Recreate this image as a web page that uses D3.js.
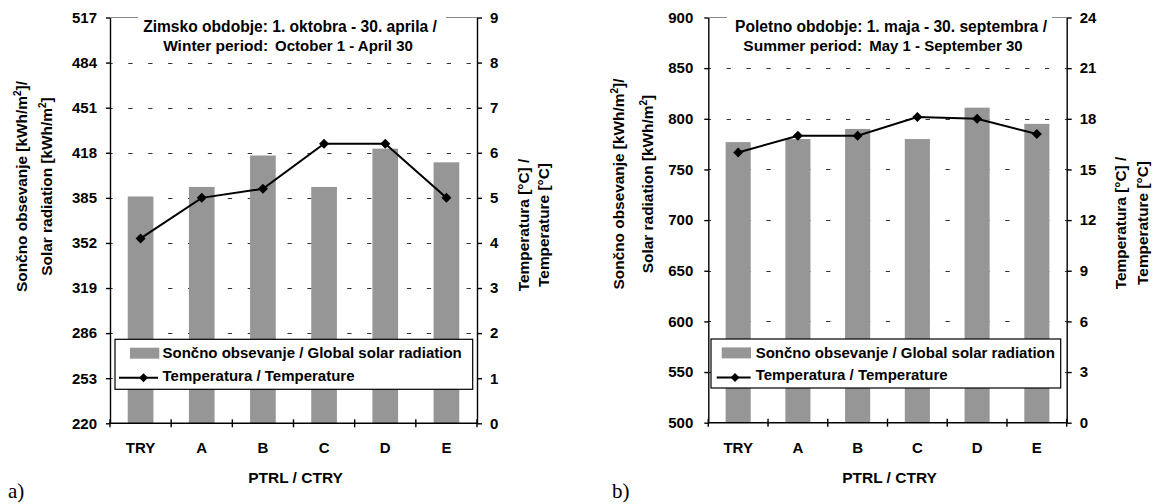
<!DOCTYPE html>
<html><head><meta charset="utf-8">
<script src="https://cdn.jsdelivr.net/npm/d3@7"></script>
<style>
body{margin:0;background:#fff}
svg{display:block}
text{font-family:"Liberation Sans",Arial,sans-serif;font-weight:bold;fill:#000}
</style>
</head><body><svg width="1159" height="504"></svg>
<script>
const categories = ["TRY","A","B","C","D","E"];
const winterRadiation = [386, 393, 416, 393, 421, 411];
const winterTemperature = [4.1, 5.0, 5.2, 6.2, 6.2, 5.0];
const summerRadiation = [777, 780, 790, 780, 811, 795];
const summerTemperature = [16.0, 17.0, 17.0, 18.1, 18.0, 17.1];
const winterRadiationTicks = [220, 253, 286, 319, 352, 385, 418, 451, 484, 517];
const winterTemperatureTicks = [0, 1, 2, 3, 4, 5, 6, 7, 8, 9];
const summerRadiationTicks = [500, 550, 600, 650, 700, 750, 800, 850, 900];
const summerTemperatureTicks = [0, 3, 6, 9, 12, 15, 18, 21, 24];
const legendLabels = ["Sončno obsevanje / Global solar radiation", "Temperatura / Temperature"];
const xAxisTitle = "PTRL / CTRY";
const radiationTitleLines = ["Sončno obsevanje [kWh/m²]/", "Solar radiation [kWh/m²]"];
const temperatureTitleLines = ["Temperatura [°C] /", "Temperature [°C]"];
const winterTitle = ["Zimsko obdobje: 1. oktobra - 30. aprila /", "Winter period:", "October 1 - April 30"];
const summerTitle = ["Poletno obdobje: 1. maja - 30. septembra /", "Summer period:", "May 1 - September 30"];

const svg = d3.select("svg");
const BAR = "#969696";

function addSupText(sel, str){
  const parts = str.split("²");
  parts.forEach((p, i) => {
    if (i > 0) {
      sel.append("tspan").attr("dy", -6).attr("font-size", 10).text("2");
      sel.append("tspan").attr("dy", 6).text(p);
    } else sel.append("tspan").text(p);
  });
}

function diamond(r){ return `M0,${-r}L${r},0L0,${r}L${-r},0Z`; }

function drawChart(c){
  const g = svg.append("g");
  const x = d3.scaleBand().domain(categories).range([c.x0, c.x1]).paddingInner(0.58).paddingOuter(0.29);
  const yR = d3.scaleLinear().domain([c.radTicks[0], c.radTicks[c.radTicks.length-1]]).range([c.yBot, c.yTop]);
  const yT = d3.scaleLinear().domain([c.tempTicks[0], c.tempTicks[c.tempTicks.length-1]]).range([c.yBot, c.yTop]);
  const top = yR(c.radTicks[c.radTicks.length-1]);

  g.append("line").attr("x1", c.x0).attr("x2", c.x1).attr("y1", top).attr("y2", top)
    .attr("stroke", "#8a8a8a").attr("stroke-width", 1);

  g.selectAll(".grid").data(c.radTicks.slice(1, -1)).join("line")
    .attr("x1", c.x0).attr("x2", c.x1)
    .attr("y1", d => Math.round(yR(d)) + 0.5).attr("y2", d => Math.round(yR(d)) + 0.5)
    .attr("stroke", "#333").attr("stroke-width", 1)
    .attr("stroke-dasharray", "4.3,15.6").attr("stroke-dashoffset", 1.6);

  g.selectAll(".bar").data(categories).join("rect")
    .attr("x", d => x(d)).attr("width", x.bandwidth())
    .attr("y", (d, i) => yR(c.rad[i]))
    .attr("height", (d, i) => yR(c.radTicks[0]) - yR(c.rad[i]))
    .attr("fill", BAR);

  const la = g.append("g").attr("transform", `translate(${c.x0},0)`)
    .call(d3.axisLeft(yR).tickValues(c.radTicks).tickSize(4).tickSizeOuter(0).tickPadding(c.leftPad));
  const ra = g.append("g").attr("transform", `translate(${c.x1},0)`)
    .call(d3.axisRight(yT).tickValues(c.tempTicks).tickSize(5).tickSizeOuter(0).tickPadding(c.rightPad));
  [la, ra].forEach(a => {
    a.attr("font-family", null).attr("font-size", null);
    a.selectAll("path,line").attr("stroke", "#000").attr("stroke-width", 1.4);
    a.selectAll("text").attr("font-size", 15);
  });

  const step = x.step();
  const bw = x.bandwidth();
  const bounds = categories.map(d => x(d) + bw / 2 - step / 2).concat([x(categories[categories.length-1]) + bw / 2 + step / 2]);
  g.append("line").attr("x1", c.x0).attr("x2", c.x1).attr("y1", c.yBot).attr("y2", c.yBot)
    .attr("stroke", "#000").attr("stroke-width", 1.4);
  g.selectAll(".xt").data(bounds).join("line")
    .attr("x1", d => d).attr("x2", d => d).attr("y1", c.yBot - 4).attr("y2", c.yBot + 4)
    .attr("stroke", "#000").attr("stroke-width", 1.4);
  g.selectAll(".xl").data(categories).join("text")
    .attr("x", d => x(d) + bw / 2).attr("y", c.yBot + 30)
    .attr("text-anchor", "middle").attr("font-size", 15).text(d => d);
  g.append("text").attr("x", (c.x0 + c.x1) / 2 + 2).attr("y", c.yBot + 60)
    .attr("text-anchor", "middle").attr("font-size", 15.5).text(xAxisTitle);

  const line = d3.line().x((d, i) => x(categories[i]) + bw / 2).y(d => yT(d));
  g.append("path").datum(c.temp).attr("d", line).attr("fill", "none")
    .attr("stroke", "#000").attr("stroke-width", 2);
  g.selectAll(".mk").data(c.temp).join("path")
    .attr("transform", (d, i) => `translate(${x(categories[i]) + bw / 2},${yT(d)})`)
    .attr("d", diamond(5)).attr("fill", "#000");

  g.append("rect").attr("x", c.titleBox[0]).attr("y", top - 6).attr("width", c.titleBox[1] - c.titleBox[0])
    .attr("height", 40).attr("fill", "#fff");
  g.append("text").attr("x", c.title1X).attr("y", 31.7).attr("text-anchor", "middle")
    .attr("font-size", 15.6).text(c.title[0]);
  const t2 = g.append("text").attr("x", c.title2X).attr("y", 50.7).attr("text-anchor", "middle").attr("font-size", 15.5);
  t2.append("tspan").text(c.title[1]);
  t2.append("tspan").attr("dx", 7).attr("font-size", 15).text(c.title[2]);

  const L = c.legend;
  g.append("rect").attr("x", L.x).attr("y", L.y).attr("width", L.w).attr("height", L.h)
    .attr("fill", "#fff").attr("stroke", "#000").attr("stroke-width", 1.2);
  g.append("rect").attr("x", L.swX).attr("y", L.y + 8.4).attr("width", 29.3).attr("height", 11).attr("fill", BAR);
  g.append("line").attr("x1", L.lnX1).attr("x2", L.lnX2).attr("y1", L.y + 38.4).attr("y2", L.y + 38.4)
    .attr("stroke", "#000").attr("stroke-width", 2);
  g.append("path").attr("transform", `translate(${L.mkX},${L.y + 38.4})`).attr("d", diamond(4.5)).attr("fill", "#000");
  g.append("text").attr("x", L.txX).attr("y", L.y + 19).attr("font-size", 15).text(legendLabels[0]);
  g.append("text").attr("x", L.txX).attr("y", L.y + 41.4).attr("font-size", 15).text(legendLabels[1]);

  radiationTitleLines.forEach((s, i) => {
    const t = g.append("text").attr("transform", `translate(${c.radTitleX[i]},${c.radTitleY}) rotate(-90)`)
      .attr("text-anchor", "middle").attr("dy", "0.35em").attr("font-size", 15.4);
    addSupText(t, s);
  });
  temperatureTitleLines.forEach((s, i) => {
    g.append("text").attr("transform", `translate(${c.tempTitleX[i]},${c.tempTitleY}) rotate(-90)`)
      .attr("text-anchor", "middle").attr("dy", "0.35em").attr("font-size", 15.4).text(s);
  });

  g.append("text").attr("x", c.panelX).attr("y", 498).attr("font-size", 21)
    .style("font-family", '"Liberation Serif","Times New Roman",serif').style("font-weight", "normal")
    .text(c.panel);
}

drawChart({
  x0: 110, x1: 477, yTop: 17.5, yBot: 423.3,
  rad: winterRadiation, temp: winterTemperature,
  radTicks: winterRadiationTicks, tempTicks: winterTemperatureTicks,
  leftPad: 9, rightPad: 8,
  title: winterTitle, titleBox: [138, 446], title1X: 290, title2X: 288,
  legend: {x: 115, y: 339.3, w: 357.7, h: 50, swX: 130, lnX1: 119, lnX2: 158, mkX: 143.5, txX: 162.5},
  radTitleX: [22, 47], radTitleY: 186.5,
  tempTitleX: [524, 544], tempTitleY: 225,
  panel: "a)", panelX: 8
});
drawChart({
  x0: 708.3, x1: 1066.7, yTop: 17.5, yBot: 422.7,
  rad: summerRadiation, temp: summerTemperature,
  radTicks: summerRadiationTicks, tempTicks: summerTemperatureTicks,
  leftPad: 11, rightPad: 8,
  title: summerTitle, titleBox: [727, 1052], title1X: 891, title2X: 883,
  legend: {x: 711, y: 339, w: 349.7, h: 49, swX: 721.7, lnX1: 716.7, lnX2: 750.7, mkX: 735, txX: 755.7},
  radTitleX: [619, 648], radTitleY: 184,
  tempTitleX: [1121, 1143], tempTitleY: 223,
  panel: "b)", panelX: 612
});
</script>
</body></html>
